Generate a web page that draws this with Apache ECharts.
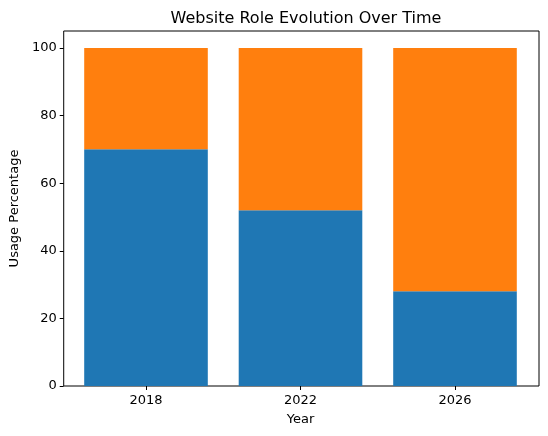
<!DOCTYPE html>
<html>
<head>
<meta charset="utf-8">
<script src="https://cdn.jsdelivr.net/npm/echarts@6/dist/echarts.min.js"></script>
<style>
  html, body { margin: 0; padding: 0; background: #fff; }
  #chart { width: 548px; height: 436px; }
</style>
</head>
<body>
<div id="chart"></div>
<script>
// data
const years = ['2018', '2022', '2026']
const blueValues = [70, 52, 28]
const orangeValues = [30, 48, 72]
const yTicks = [0, 20, 40, 60, 80, 100]

const font = 'DejaVu Sans'
const chart = echarts.init(document.getElementById('chart'))

const axisText = { fontFamily: font, fontSize: 13, color: '#000' }

chart.setOption({
  animation: false,
  title: {
    text: 'Website Role Evolution Over Time',
    left: 301,
    top: 6,
    textAlign: 'center',
    textStyle: { fontFamily: font, fontSize: 16, fontWeight: 'normal', color: '#000' }
  },
  // grid 0 = the frame and the y axis, grid 1 = the bars (narrower, like matplotlib's x margins)
  grid: [
    { left: 63, right: 9, top: 31, bottom: 50, show: true, borderColor: '#000', borderWidth: 1 },
    { left: 68.75, right: 15.75, top: 31, bottom: 50 }
  ],
  xAxis: [
    { type: 'value', gridIndex: 0, show: false },
    {
      type: 'category',
      gridIndex: 1,
      data: years,
      name: 'Year',
      nameLocation: 'middle',
      nameGap: 27,
      nameTextStyle: axisText,
      axisLine: { show: false },
      axisTick: { show: true, alignWithLabel: true, length: 4, lineStyle: { color: '#000' } },
      axisLabel: Object.assign({ margin: 8 }, axisText)
    }
  ],
  yAxis: [
    {
      type: 'value',
      gridIndex: 0,
      min: 0,
      max: 105,
      name: 'Usage Percentage',
      nameLocation: 'middle',
      nameGap: 41,
      nameTextStyle: axisText,
      axisLine: { show: false },
      splitLine: { show: false },
      axisTick: { show: true, length: 4, customValues: yTicks, lineStyle: { color: '#000' } },
      axisLabel: Object.assign({ customValues: yTicks, margin: 7 }, axisText)
    },
    { type: 'value', gridIndex: 1, min: 0, max: 105, show: false }
  ],
  series: [
    {
      type: 'bar',
      stack: 'total',
      xAxisIndex: 1,
      yAxisIndex: 1,
      data: blueValues,
      barWidth: '80%',
      itemStyle: { color: '#1f77b4' }
    },
    {
      type: 'bar',
      stack: 'total',
      xAxisIndex: 1,
      yAxisIndex: 1,
      data: orangeValues,
      barWidth: '80%',
      itemStyle: { color: '#ff7f0e' }
    }
  ]
})
</script>
</body>
</html>
